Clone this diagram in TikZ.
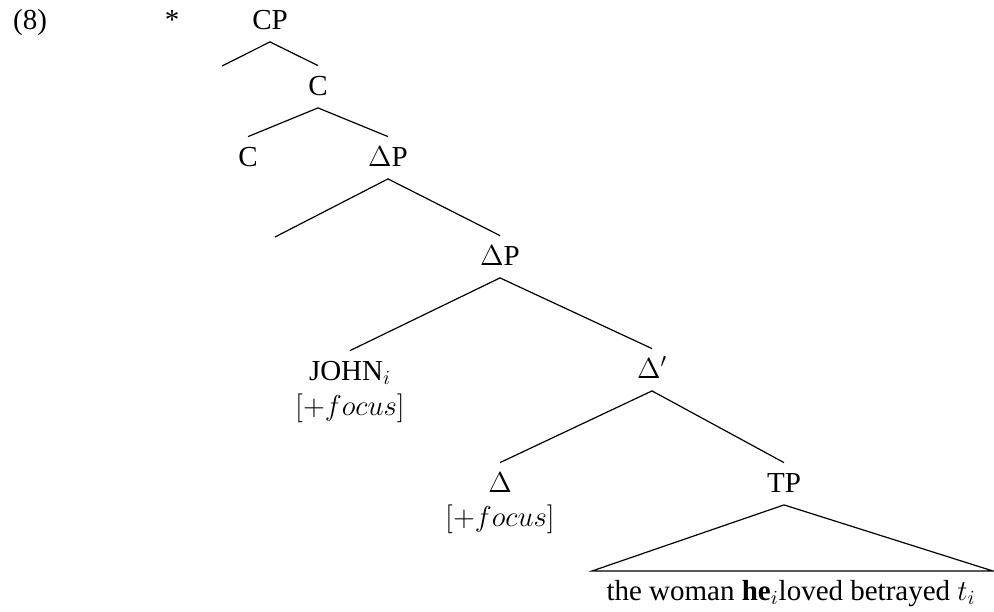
\documentclass[tikz,border=0pt]{standalone}
\usepackage{fontspec}
\setmainfont{Liberation Serif}
\usetikzlibrary{positioning,calc}

\begin{document}
\begin{tikzpicture}[x=0.5pt,y=-0.5pt,
    font=\fontsize{14.5}{17}\selectfont,
    cat/.style={anchor=base,inner xsep=0pt,inner ysep=4.5pt,text height=10pt,text depth=1.75pt},
    feat/.style={anchor=base,inner sep=0pt},
    branch/.style={line width=0.6pt}]
  \useasboundingbox (0,0) rectangle (994,611);
  % example number and star
  \node[feat] (exnum) at (30,29) {(8)};
  \node[feat] (star) at (172,29) {*};
  % tree nodes
  \node[cat] (cp) at (270,29) {CP};
  \coordinate (cpspec) at (222,66);
  \node[cat] (cbar) at (318,95) {C};
  \node[cat] (chead) at (248,166) {C};
  \node[cat] (dp1) at (388,166) {$\Delta$P};
  \coordinate (dpspec) at (275,237);
  \node[cat] (dp2) at (500,265) {$\Delta$P};
  \node[cat] (john) at (350,380) {JOHN$_i$};
  \node[feat] (johnfeat) at (350,415) {$[+focus]$};
  \node[cat] (dbar) at (652,378) {$\Delta'$};
  \node[cat] (dhead) at (500,492) {$\Delta$};
  \node[feat] (dfeat) at (500,526) {$[+focus]$};
  \node[cat] (tp) at (784,492) {TP};
  \coordinate (tpleft) at (592,571);
  \coordinate (tpright) at (993,571);
  \node[feat] (sent) at (791,600) {the woman \textbf{he}$_i$loved betrayed $t_i$};
  % branches
  \draw[branch] (cpspec) -- (cp.south) -- (cbar.north);
  \draw[branch] (chead.north) -- (cbar.south) -- (dp1.north);
  \draw[branch] (dpspec) -- (dp1.south) -- (dp2.north);
  \draw[branch] (john.north) -- (dp2.south) -- (dbar.north);
  \draw[branch] (dhead.north) -- (dbar.south) -- (tp.north);
  % triangle over the TP
  \draw[branch] (tpleft) -- (tp.south) -- (tpright) -- cycle;
\end{tikzpicture}
\end{document}
